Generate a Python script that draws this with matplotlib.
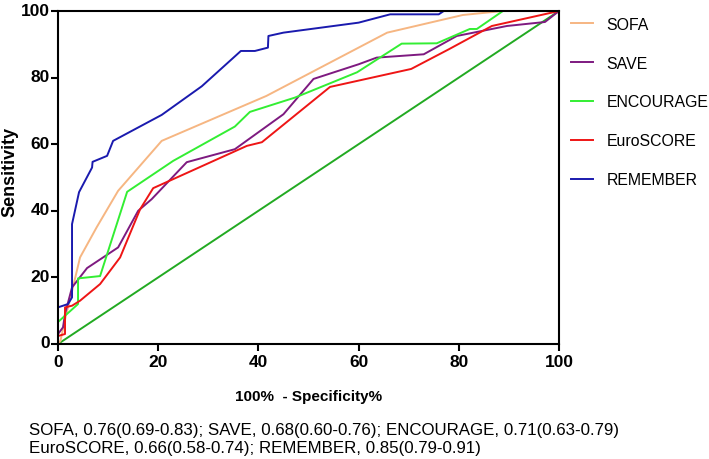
import numpy as np
import matplotlib
matplotlib.use('Agg')
import matplotlib.pyplot as plt
import matplotlib.transforms as mtransforms

plt.rcParams['font.family'] = ['Liberation Sans', 'DejaVu Sans']

# ROC curves (x = 100% - specificity, y = sensitivity)
sofa_x = [0, 0.5, 1.5, 2.5, 4.4, 7.7, 12, 20.7, 41.6, 65.7, 80.8, 88.8, 100]
sofa_y = [0, 1, 8, 14, 26, 35, 46, 61, 74.5, 93.5, 98.8, 100, 100]

save_x = [0, 0, 1, 1.4, 2.8, 5.8, 12, 16, 18.7, 25.7, 35.3, 45, 51, 60, 63.6, 73, 79.6, 89.6, 97.2, 100]
save_y = [0, 3, 5, 9, 17, 22.8, 29, 40, 43.5, 54.6, 58.5, 69, 79.6, 84, 86, 87, 92.5, 95.5, 96.7, 100]

enc_x = [0, 0, 4, 4, 8.4, 13.8, 23, 35.3, 38.3, 47.3, 59.7, 68.6, 75.6, 82.2, 83.6, 88.8, 100]
enc_y = [0, 6.6, 12, 19.7, 20.4, 45.7, 55, 65.3, 69.7, 74, 81.6, 90.2, 90.3, 94.6, 94.6, 100, 100]

euro_x = [0, 0, 1.4, 1.4, 2.8, 4.4, 8.4, 12.4, 16.4, 19, 37.7, 40.7, 54.3, 70.5, 78, 86.6, 100]
euro_y = [0, 2.4, 3, 11, 11.5, 13, 18, 26, 40.5, 46.8, 59.5, 60.6, 77.2, 82.6, 88.5, 95.5, 100]

rem_x = [0, 0, 2, 2.8, 2.8, 4.2, 6.8, 6.9, 9.8, 11, 20.7, 28.7, 36.5, 39.3, 41.9, 42, 45, 60, 66.3, 76, 77, 100]
rem_y = [0, 11, 12, 14, 36, 45.6, 53, 54.7, 56.5, 61, 68.8, 77.4, 88, 88, 89, 92.5, 93.5, 96.5, 99, 99, 100, 100]

names = ['SOFA', 'SAVE', 'ENCOURAGE', 'EuroSCORE', 'REMEMBER']
auc_text = ['0.76(0.69-0.83)', '0.68(0.60-0.76)', '0.71(0.63-0.79)',
            '0.66(0.58-0.74)', '0.85(0.79-0.91)']

curves = [(sofa_x, sofa_y), (save_x, save_y), (enc_x, enc_y),
          (euro_x, euro_y), (rem_x, rem_y)]
colors = ['#F6B682', '#7E1A80', '#33EE33', '#EE1515', '#1A1AAE']

fig = plt.figure(figsize=(7.09, 4.60), dpi=100)
ax = fig.add_axes([58/709, 1-345/460, (559-58)/709, (345-12)/460])

ax.plot([0, 100], [0, 100], color='#22AA22', linewidth=1.4, zorder=1)
for (cx, cy), c, n in zip(curves, colors, names):
    ax.plot(cx, cy, color=c, linewidth=1.4, label=n, zorder=2)

ax.set_xlim(0, 100)
ax.set_ylim(0, 100)
ax.set_xticks(range(0, 101, 20))
ax.set_yticks(range(0, 101, 20))
for s in ax.spines.values():
    s.set_linewidth(1.5)
ax.tick_params(direction='out', length=5, width=1.5, labelsize=12.5, pad=2)
ax.tick_params(axis='y', pad=1)
for lab in ax.get_xticklabels() + ax.get_yticklabels():
    lab.set_fontweight('bold')
# y tick labels sit a little above their ticks
up = mtransforms.ScaledTranslation(0, 2.5/100, fig.dpi_scale_trans)
for lab in ax.get_yticklabels():
    lab.set_transform(lab.get_transform() + up)

ax.set_xlabel('100%  - Specificity%', fontsize=11, fontweight='bold')
ax.xaxis.set_label_coords(0.5, -0.135)
ax.set_ylabel('Sensitivity', fontsize=13, fontweight='bold')
ax.yaxis.set_label_coords(-40/501, 0.52)

ax.legend(loc='upper left', bbox_to_anchor=(0.995, 1.026), frameon=False,
          fontsize=11.4, handlelength=1.4, labelspacing=1.51, handletextpad=0.85)

line1 = '; '.join(f'{n}, {a}' for n, a in zip(names[:3], auc_text[:3]))
line2 = '; '.join(f'{n}, {a}' for n, a in zip(names[3:], auc_text[3:]))
fig.text(29/709, 1-431/460, line1, fontsize=12.2, va='center', ha='left')
fig.text(29/709, 1-449/460, line2, fontsize=12.2, va='center', ha='left')

fig.savefig('out.png', dpi=100)
